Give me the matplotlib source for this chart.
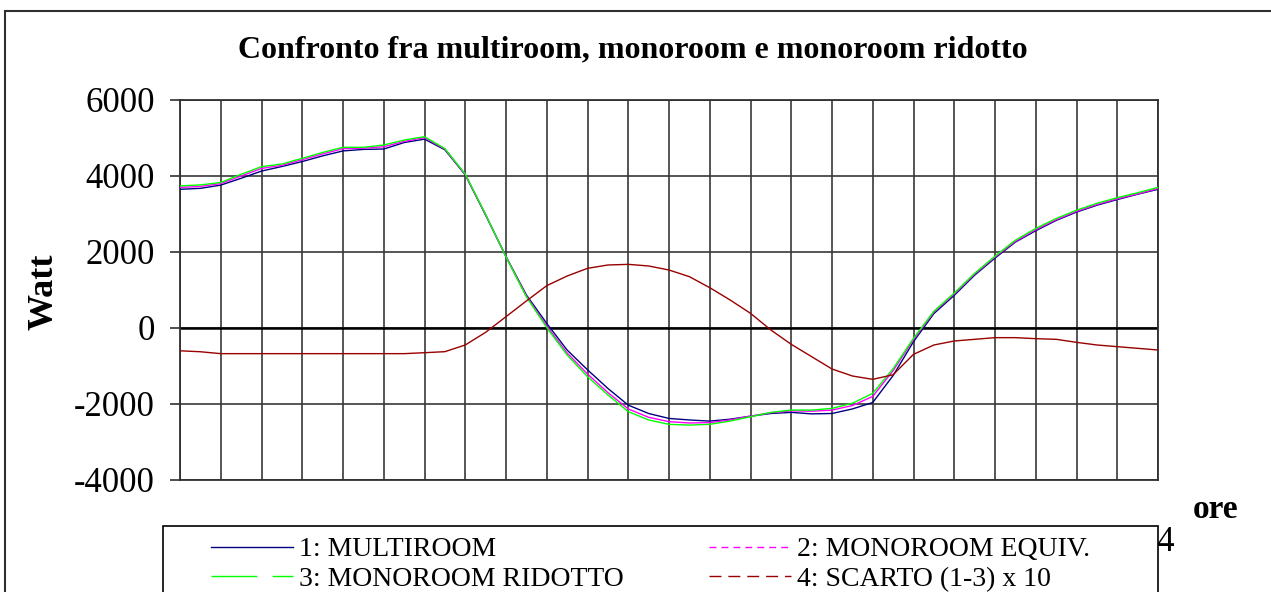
"""Confronto fra multiroom, monoroom e monoroom ridotto — potenza oraria (Watt)."""
import numpy as np
import matplotlib
matplotlib.use("Agg")
import matplotlib.pyplot as plt
from matplotlib.lines import Line2D
from matplotlib.patches import Rectangle

# --- data (half-hour samples) ---
HOURS = np.arange(0, 24.5, 0.5)
HOUR_TICKS = list(range(25))
Y_TICKS = [-4000, -2000, 0, 2000, 4000, 6000]

MULTIROOM = [3650, 3675, 3760, 3940, 4130, 4250, 4380, 4530, 4660, 4700,
             4710, 4880, 4970, 4690, 4030, 2970, 1880, 870, 120, -580,
             -1100, -1590, -2030, -2250, -2380, -2420, -2450, -2400, -2320, -2250,
             -2220, -2260, -2250, -2130, -1960, -1250, -360, 380, 860, 1390,
             1840, 2260, 2560, 2830, 3050, 3230, 3380, 3520, 3650]
MONO_EQUIV = [3700, 3725, 3800, 4000, 4200, 4280, 4430, 4580, 4720, 4730,
              4770, 4910, 5010, 4710, 4040, 2980, 1875, 840, 50, -660,
              -1210, -1700, -2130, -2350, -2465, -2500, -2490, -2420, -2320, -2230,
              -2180, -2190, -2160, -2040, -1800, -1120, -300, 420, 900, 1420,
              1870, 2280, 2590, 2850, 3070, 3250, 3400, 3530, 3670]
MONO_RIDOTTO = [3740, 3765, 3830, 4045, 4245, 4315, 4465, 4620, 4755, 4755,
                4815, 4945, 5035, 4720, 4050, 2990, 1870, 820, 10, -710,
                -1280, -1760, -2200, -2420, -2535, -2555, -2535, -2450, -2335, -2220,
                -2160, -2160, -2115, -1980, -1720, -1070, -270, 440, 920, 1440,
                1890, 2310, 2620, 2880, 3100, 3280, 3430, 3560, 3700]
SCARTO = [-600, -625, -675, -675, -675, -675, -675, -675, -675, -675,
          -675, -675, -650, -623, -447, -114, 298, 711, 1114, 1368,
          1570, 1658, 1675, 1632, 1526, 1351, 1061, 737, 386, -53,
          -430, -754, -1079, -1263, -1351, -1230, -693, -447, -342, -298,
          -254, -254, -281, -298, -377, -447, -491, -535, -579]

LABELS = ["1: MULTIROOM", "2: MONOROOM EQUIV.", "3: MONOROOM RIDOTTO",
          "4: SCARTO (1-3) x 10"]

BLUE, MAGENTA, GREEN, RED = "#000080", "#FF00FF", "#00FF00", "#990000"
INK = "#303030"

W, H = 1271, 592

plt.rcParams.update({
    "font.family": "Liberation Serif",
    "axes.unicode_minus": False,
})

fig = plt.figure(figsize=(W / 100, H / 100), dpi=100)
ax = fig.add_axes([180 / W, 1 - 480 / H, 978 / W, 380 / H])

ax.plot(HOURS, MULTIROOM, color=BLUE, lw=1.0, zorder=3)
ax.plot(HOURS, MONO_EQUIV, color=MAGENTA, lw=1.0, zorder=3)
ax.plot(HOURS, MONO_RIDOTTO, color=GREEN, lw=1.0, zorder=3)
ax.plot(HOURS, SCARTO, color=RED, lw=1.0, zorder=3)
ax.axhline(0, color="black", lw=1.8, zorder=2)

ax.set_xlim(0, 24)
ax.set_ylim(-4000, 6000)
ax.set_xticks(HOUR_TICKS)
ax.set_xticklabels([str(h) for h in HOUR_TICKS])
ax.set_yticks(Y_TICKS)
ax.grid(True, color="#383838", lw=1.2)
ax.set_axisbelow(True)
for s in ax.spines.values():
    s.set_color(INK); s.set_linewidth(1.3)
ax.tick_params(axis="y", direction="out", length=7, width=1.2, pad=11,
               labelsize=25, color=INK)
ax.tick_params(axis="x", length=0, pad=33, labelsize=25)

# titles and axis names
fig.text(633 / W, 1 - 57 / H, "Confronto fra multiroom, monoroom e monoroom ridotto",
         ha="center", va="baseline", fontsize=23, fontweight="bold")
fig.text(44 / W, 1 - 292 / H, "Watt", rotation=90, ha="center", va="center",
         fontsize=26, fontweight="bold")
fig.text(1216 / W, 1 - 509 / H, "ore", ha="center", va="center",
         fontsize=24, fontweight="bold")

# outer frame of the picture
fig.patches.append(Rectangle((5 / W, -0.1), 1.2, 1.1 - 11 / H, transform=fig.transFigure,
                             fill=False, edgecolor=INK, lw=1.5, zorder=0))
# legend box (runs off the bottom of the picture, covers the hour labels)
fig.patches.append(Rectangle((163 / W, -0.1), 995 / W, 0.1 + 1 - 526 / H,
                             transform=fig.transFigure, facecolor="white",
                             edgecolor="black", lw=1.2, zorder=3))

handles = [
    Line2D([], [], color=BLUE, lw=1.0),
    Line2D([], [], color=GREEN, lw=1.0, dashes=(33, 11)),
    Line2D([], [], color=MAGENTA, lw=1.0, dashes=(5, 3.6)),
    Line2D([], [], color=RED, lw=1.0, dashes=(8.6, 5)),
]
labels = [LABELS[0], LABELS[2], LABELS[1], LABELS[3]]
fig.legend(handles, labels, loc="upper left",
           bbox_to_anchor=(211 / W, 1 - 537 / H, (1090 - 211) / W, 0),
           mode="expand", ncol=2, frameon=False, borderpad=0, borderaxespad=0,
           fontsize=20, handlelength=2.95, handletextpad=0.22, labelspacing=0.15)

fig.savefig("out.png", dpi=100)
